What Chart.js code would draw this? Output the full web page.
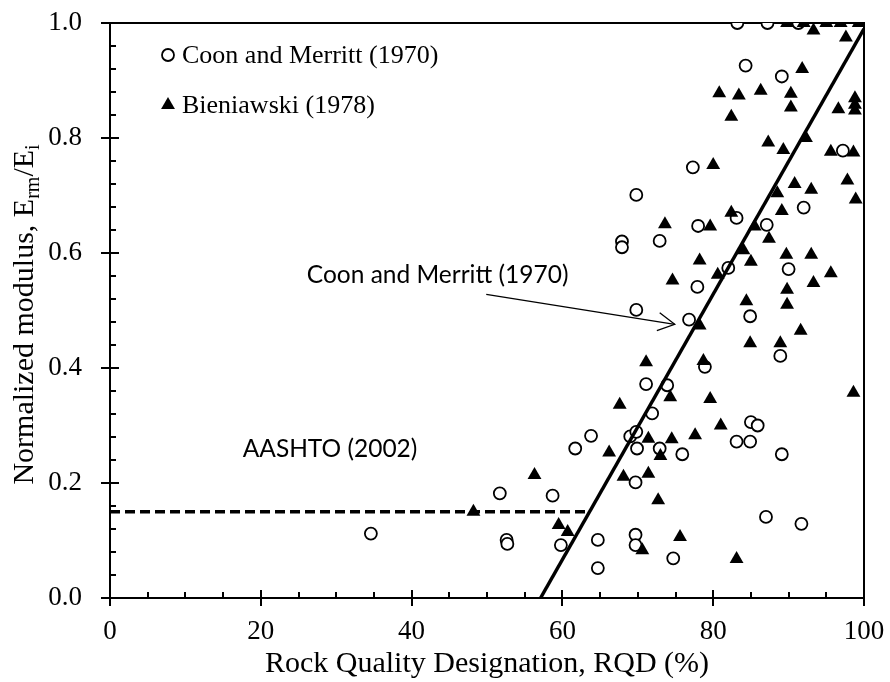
<!DOCTYPE html>
<html><head><meta charset="utf-8">
<script src="https://cdn.jsdelivr.net/npm/chart.js@4/dist/chart.umd.min.js"></script>
<style>html,body{margin:0;padding:0;background:#fff}#wrap{width:890px;height:682px}</style>
</head><body><div id="wrap"><canvas id="c" width="890" height="682"></canvas></div>
<script>
// Coon and Merritt (1970) data (open circles)
const coonX = [34.6,51.7,52.6,52.7,58.7,59.8,61.7,63.8,64.7,64.7,67.9,67.9,69.0,69.8,69.9,69.7,69.7,69.7,69.8,69.8,71.1,71.9,72.9,72.9,73.9,74.7,75.9,76.8,77.3,77.9,78.0,78.9,82.0,83.1,83.1,83.2,84.3,84.9,84.9,85.0,85.9,87.0,87.1,87.2,88.9,89.1,89.1,90.0,91.3,91.7,92.0,97.2];
const coonY = [0.112,0.182,0.101,0.094,0.178,0.092,0.260,0.282,0.101,0.052,0.620,0.610,0.281,0.289,0.260,0.201,0.110,0.092,0.701,0.501,0.372,0.321,0.621,0.260,0.370,0.069,0.250,0.484,0.749,0.541,0.647,0.402,0.574,0.661,0.272,1.0,0.926,0.490,0.272,0.306,0.300,0.141,0.649,1.0,0.421,0.907,0.250,0.572,1.0,0.129,0.679,0.778];
// Bieniawski (1978) data (filled triangles)
const bienX = [48.2,56.3,59.5,60.7,66.2,67.6,68.1,70.6,71.1,71.4,71.4,72.7,73.0,73.6,74.3,74.5,74.6,75.6,77.6,78.2,78.2,78.7,79.6,79.6,80.0,80.6,80.8,81.0,82.4,82.4,83.1,83.4,84.0,84.4,84.9,85.0,85.5,86.3,87.3,87.4,88.5,88.9,89.1,89.3,89.7,89.8,89.8,89.8,90.3,90.3,90.8,91.6,91.8,92.0,92.3,93.0,93.0,93.3,93.3,95.0,95.6,95.6,96.6,96.9,97.6,97.8,98.6,98.6,98.8,98.8,98.8,98.9,99.3];
const bienY = [0.150,0.214,0.127,0.115,0.253,0.336,0.211,0.083,0.410,0.277,0.216,0.170,0.247,0.650,0.349,0.276,0.552,0.106,0.283,0.587,0.474,0.412,0.346,0.646,0.753,0.562,0.878,0.300,0.837,0.670,0.068,0.874,0.605,0.516,0.443,0.585,0.646,0.882,0.792,0.625,0.704,0.443,0.673,0.779,0.597,0.536,0.510,1.0,0.877,0.853,0.720,0.465,0.920,1.0,0.800,0.710,0.597,0.987,0.548,1.0,0.776,0.565,0.850,1.0,0.975,0.726,0.775,0.357,0.869,0.858,0.848,0.693,1.0];
// Coon and Merritt (1970) relation line
const fitX = [57.1, 100];
const fitY = [0.0, 0.99];
// AASHTO (2002) lower limit (dashed)
const aashtoX = [0, 63];
const aashtoY = [0.15, 0.15];
// annotation arrow (tail -> head)
const arrowX = [49.9, 74.9];
const arrowY = [0.528, 0.476];
// ticks
const xTicks = [0, 20, 40, 60, 80, 100];
const yTicks = [0.0, 0.2, 0.4, 0.6, 0.8, 1.0];
const xMinorStep = 5;
const yMinorStep = 0.04;
// texts
const legendLabels = ['Coon and Merritt (1970)', 'Bieniawski (1978)'];
const xTitle = 'Rock Quality Designation, RQD (%)';
const notes = [{text:'Coon and Merritt (1970)', x:26.1, y:0.562}, {text:'AASHTO (2002)', x:17.6, y:0.259}];

const pts = (xs, ys) => xs.map((x, i) => ({x: x, y: ys[i]}));
const SERIF = '"Liberation Serif", "Times New Roman", serif';
const SANS = 'Lato, "Open Sans", sans-serif';
const noPad = s => { s.paddingLeft = 0; s.paddingRight = 0; s.paddingTop = 0; s.paddingBottom = 0; };

const framePlugin = {
  id: 'frame',
  beforeDatasetsDraw(chart) {
    const {ctx, chartArea: a, scales: {x, y}} = chart;
    ctx.save();
    ctx.strokeStyle = '#000';
    ctx.lineWidth = 2;
    ctx.strokeRect(a.left, a.top, a.right - a.left, a.bottom - a.top);
    for (let i = 0; i * xMinorStep <= 100 + 1e-9; i++) {
      const v = i * xMinorStep;
      const px = Math.round(x.getPixelForValue(v));
      const major = xTicks.some(t => Math.abs(t - v) < 1e-9);
      ctx.beginPath();
      ctx.moveTo(px, a.bottom - (major ? 8 : 6));
      ctx.lineTo(px, a.bottom + (major ? 8 : 0));
      ctx.stroke();
    }
    for (let i = 0; i * yMinorStep <= 1 + 1e-9; i++) {
      const v = i * yMinorStep;
      const py = Math.round(y.getPixelForValue(v));
      const major = yTicks.some(t => Math.abs(t - v) < 1e-9);
      ctx.beginPath();
      ctx.moveTo(a.left - (major ? 9 : 0), py);
      ctx.lineTo(a.left + (major ? 9 : 6), py);
      ctx.stroke();
    }
    ctx.restore();
  },
  afterDraw(chart) {
    const {ctx, chartArea: a, scales: {x, y}} = chart;
    ctx.save();
    ctx.fillStyle = '#000';
    ctx.strokeStyle = '#000';
    // arrow head
    const x0 = x.getPixelForValue(arrowX[0]), y0 = y.getPixelForValue(arrowY[0]);
    const x1 = x.getPixelForValue(arrowX[1]), y1 = y.getPixelForValue(arrowY[1]);
    const ang = Math.atan2(y1 - y0, x1 - x0);
    const L = 19, h = 0.5;
    ctx.lineWidth = 1.3;
    ctx.beginPath();
    ctx.moveTo(x1 - L * Math.cos(ang - h), y1 - L * Math.sin(ang - h));
    ctx.lineTo(x1, y1);
    ctx.lineTo(x1 - L * Math.cos(ang + h), y1 - L * Math.sin(ang + h));
    ctx.stroke();
    // annotations
    ctx.font = '24.5px ' + SANS;
    ctx.textBaseline = 'middle';
    ctx.textAlign = 'left';
    notes.forEach(n => ctx.fillText(n.text, x.getPixelForValue(n.x), y.getPixelForValue(n.y)));
    // legend
    const lx = a.left + 58, ly1 = a.top + 32, ly2 = a.top + 82;
    ctx.lineWidth = 1.8;
    ctx.beginPath(); ctx.arc(lx, ly1, 6, 0, Math.PI * 2); ctx.fillStyle = '#fff'; ctx.fill(); ctx.stroke();
    ctx.fillStyle = '#000';
    const r = 8;
    ctx.beginPath();
    ctx.moveTo(lx, ly2 - r); ctx.lineTo(lx + r * 0.866, ly2 + r / 2); ctx.lineTo(lx - r * 0.866, ly2 + r / 2); ctx.closePath(); ctx.fill();
    ctx.font = '26px ' + SERIF;
    ctx.fillText(legendLabels[0], lx + 14, ly1 + 1);
    ctx.fillText(legendLabels[1], lx + 14, ly2 + 1);
    // y title with subscripts
    const F = 30, S = 20, dy = 6;
    const parts = [{t:'Normalized modulus, E', f:F, d:0}, {t:'rm', f:S, d:dy}, {t:'/E', f:F, d:0}, {t:'i', f:S, d:dy}];
    let total = 0;
    parts.forEach(p => { ctx.font = p.f + 'px ' + SERIF; p.w = ctx.measureText(p.t).width; total += p.w; });
    ctx.translate(33, (a.top + a.bottom) / 2 + 4);
    ctx.rotate(-Math.PI / 2);
    ctx.textBaseline = 'alphabetic';
    let xx = -total / 2;
    parts.forEach(p => { ctx.font = p.f + 'px ' + SERIF; ctx.fillText(p.t, xx, p.d); xx += p.w; });
    ctx.restore();
  }
};

new Chart(document.getElementById('c'), {
  type: 'scatter',
  data: {
    datasets: [
      {label: legendLabels[0], data: pts(coonX, coonY), pointStyle: 'circle', pointRadius: 6, pointBorderWidth: 1.8,
       pointBorderColor: '#000', pointBackgroundColor: '#fff', order: 2},
      {label: legendLabels[1], data: pts(bienX, bienY), pointStyle: 'triangle', pointRadius: 8, pointBorderWidth: 0,
       pointBorderColor: '#000', pointBackgroundColor: '#000', order: 1},
      {label: 'fit', type: 'line', data: pts(fitX, fitY), borderColor: '#000', borderWidth: 3.5, pointRadius: 0, fill: false, order: 0},
      {label: 'aashto', type: 'line', data: pts(aashtoX, aashtoY), borderColor: '#000', borderWidth: 3.5, borderDash: [10, 5], pointRadius: 0, fill: false, order: 0},
      {label: 'arrow', type: 'line', data: pts(arrowX, arrowY), borderColor: '#000', borderWidth: 1.3, pointRadius: 0, fill: false, order: 0}
    ]
  },
  options: {
    responsive: false,
    animation: false,
    devicePixelRatio: 1,
    events: [],
    layout: {padding: {left: 0, right: 26, top: 23, bottom: 0}},
    plugins: {legend: {display: false}, tooltip: {enabled: false}},
    elements: {line: {tension: 0}},
    scales: {
      x: {
        type: 'linear', position: 'bottom', min: 0, max: 100,
        afterBuildTicks: s => { s.ticks = xTicks.map(v => ({value: v})); },
        afterFit: s => { s.height = 84; noPad(s); },
        grid: {display: false, drawTicks: false},
        border: {display: false},
        ticks: {color: '#000', font: {family: SERIF, size: 27}, padding: 18, maxRotation: 0, autoSkip: false, callback: v => String(v)},
        title: {display: true, text: xTitle, color: '#000', font: {family: SERIF, size: 30}, padding: {top: 0, bottom: 0}}
      },
      y: {
        type: 'linear', position: 'left', min: 0, max: 1,
        afterBuildTicks: s => { s.ticks = yTicks.map(v => ({value: v})); },
        afterFit: s => { s.width = 110; noPad(s); },
        grid: {display: false, drawTicks: false},
        border: {display: false},
        ticks: {color: '#000', font: {family: SERIF, size: 27}, padding: 28, autoSkip: false, callback: v => Number(v).toFixed(1)}
      }
    }
  },
  plugins: [framePlugin]
});
</script>
</body></html>
